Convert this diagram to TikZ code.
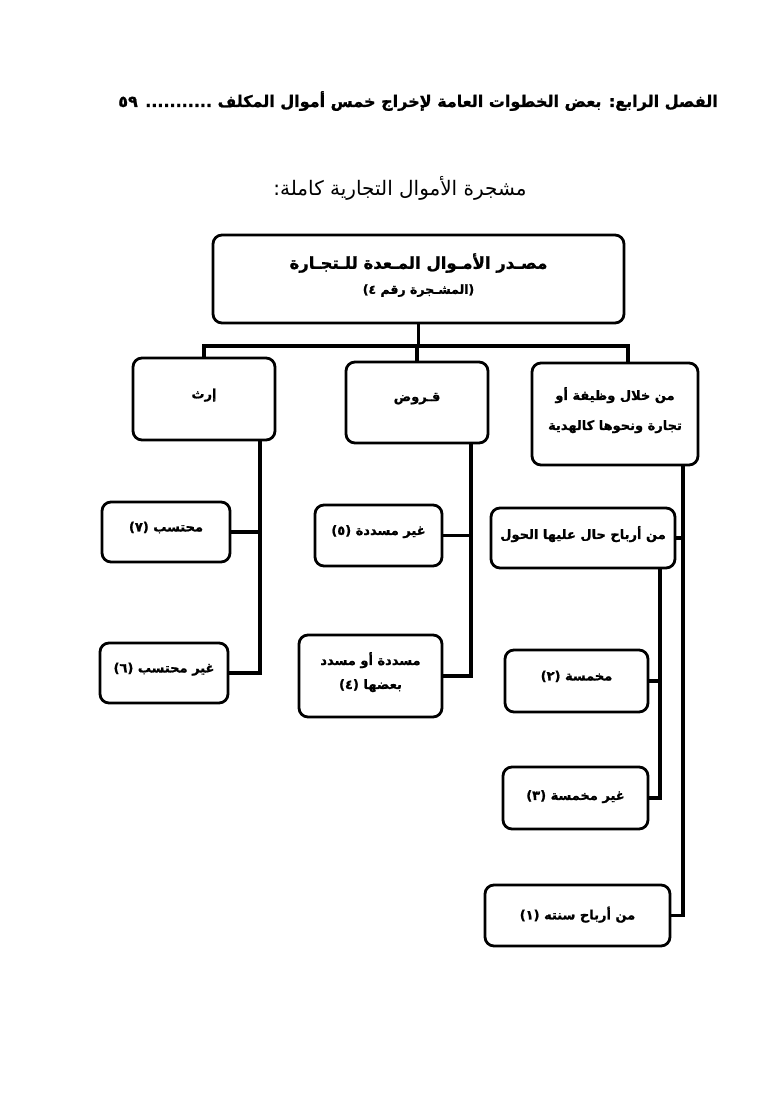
\documentclass[tikz,border=0pt]{standalone}
\usepackage{fontspec}
\TeXXeTstate=1
\newfontfamily\arfont[Script=Arabic]{DejaVu Sans}
\newfontfamily\arbold[Script=Arabic, FakeBold=1.2]{DejaVu Sans Bold}
\newcommand\AR[1]{{\beginR #1\endR}}
\tikzset{
  box/.style={draw, line width=2.8pt, rounded corners=9pt, inner sep=2pt, align=center,
    text depth=11pt, font=\arbold\fontsize{13}{26}\selectfont},
  conn/.style={line width=3.2pt, line join=miter},
}
\begin{document}
\begin{tikzpicture}[x=1pt,y=-1pt]
\useasboundingbox (0,0) rectangle (779,1119);
% header and title
\node[anchor=east, inner sep=0pt, font=\arbold\fontsize{16}{20}\selectfont] (hdr) at (718,101)
  {\AR{الفصل الرابع: بعض الخطوات العامة لإخراج خمس أموال المكلف ........... ٥٩}};
\node[inner sep=0pt, font=\arfont\fontsize{20}{24}\selectfont] (ttl) at (400,188)
  {\AR{مشجرة الأموال التجارية كاملة:}};
% top box
\node[box, minimum width=411pt, minimum height=88pt] (top) at (418.5,279)
  {\AR{\fontsize{16.5}{30}\selectfont مصـدر الأمـوال المـعدة للـتجـارة}\\[-1pt]
   \AR{\fontsize{12.5}{16}\selectfont (المشـجرة رقم ٤)}};
% level 1
\node[box, minimum width=142pt, minimum height=82pt] (erth) at (204,399) {\AR{إرث}};
\node[box, minimum width=142pt, minimum height=81pt] (qurud) at (417,402.5) {\AR{قـروض}};
\node[box, minimum width=166pt, minimum height=102pt] (wazifa) at (615,414)
  {\AR{من خلال وظيفة أو}\\[4pt] \AR{تجارة ونحوها كالهدية}};
% left column
\node[box, minimum width=128pt, minimum height=60pt] (muht) at (166,532) {\AR{محتسب (٧)}};
\node[box, minimum width=128pt, minimum height=60pt] (ghmuht) at (164,673) {\AR{غير محتسب (٦)}};
% middle column
\node[box, minimum width=127pt, minimum height=61pt] (ghmus) at (378.5,535.5) {\AR{غير مسددة (٥)}};
\node[box, minimum width=143pt, minimum height=82pt] (mus) at (370.5,676)
  {\AR{مسددة أو مسدد}\\[-2pt] \AR{بعضها (٤)}};
% right column
\node[box, minimum width=184pt, minimum height=60pt] (hawl) at (583,538) {\AR{من أرباح حال عليها الحول}};
\node[box, minimum width=143pt, minimum height=62pt] (mukh) at (576.5,681) {\AR{مخمسة (٢)}};
\node[box, minimum width=145pt, minimum height=62pt, text depth=6pt] (ghmukh) at (575.5,798) {\AR{غير مخمسة (٣)}};
\node[box, minimum width=185pt, minimum height=61pt, text depth=5pt] (sana) at (577.5,915.5) {\AR{من أرباح سنته (١)}};
% connectors
\coordinate (barL) at (204,346);
\coordinate (barR) at (628,346);
\draw[conn] (top.south) -- (top.south |- barL);
\draw[conn] (erth.north) -- (barL) -- (barR) -- (barR |- wazifa.north);
\draw[conn] (qurud.north) -- (qurud.north |- barL);
\coordinate (lt) at (260,0);
\draw[conn] (lt |- erth.south) -- (lt |- ghmuht.east) -- (ghmuht.east);
\draw[conn] (muht.east) -- (lt |- muht.east);
\coordinate (mt) at (471,0);
\draw[conn] (mt |- qurud.south) -- (mt |- mus.east) -- (mus.east);
\draw[conn] (ghmus.east) -- (mt |- ghmus.east);
\coordinate (rt) at (683,0);
\draw[conn] (rt |- wazifa.south) -- (rt |- sana.east) -- (sana.east);
\draw[conn] (hawl.east) -- (rt |- hawl.east);
\coordinate (st) at (660,0);
\draw[conn] (st |- hawl.south) -- (st |- ghmukh.east) -- (ghmukh.east);
\draw[conn] (mukh.east) -- (st |- mukh.east);
\end{tikzpicture}
\end{document}
